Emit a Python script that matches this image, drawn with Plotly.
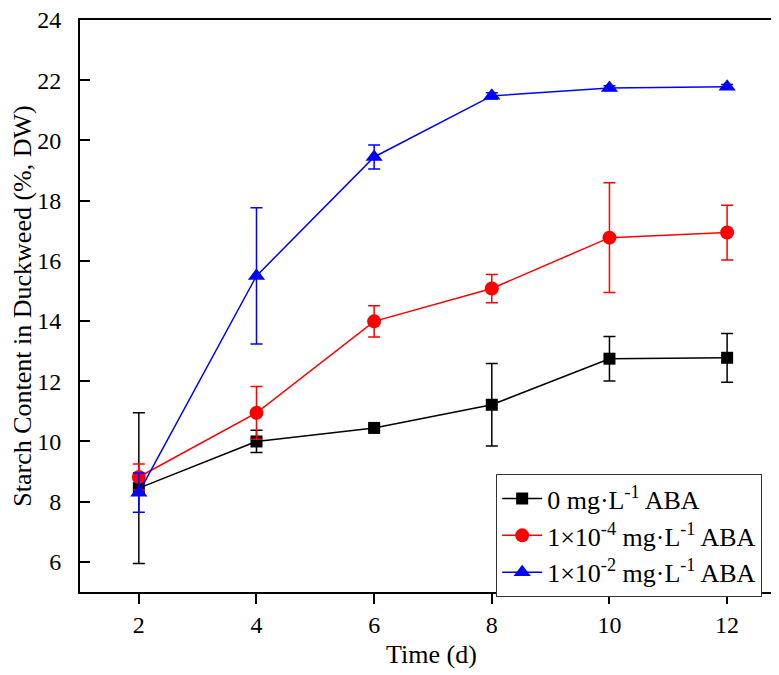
import plotly.graph_objects as go

days = [2, 4, 6, 8, 10, 12]

names = ["0 mg·L<sup>-1</sup> ABA",
         "1×10<sup>-4</sup> mg·L<sup>-1</sup> ABA",
         "1×10<sup>-2</sup> mg·L<sup>-1</sup> ABA"]

ctrl = [8.45, 10.0, 10.45, 11.22, 12.75, 12.78]
ctrl_err = [2.5, 0.37, 0.08, 1.37, 0.74, 0.81]

low = [8.82, 10.95, 13.99, 15.08, 16.77, 16.94]
low_err = [0.43, 0.88, 0.52, 0.47, 1.82, 0.91]

high = [8.3, 15.5, 19.45, 21.48, 21.74, 21.78]
high_err = [0.65, 2.26, 0.4, 0.1, 0.08, 0.08]

colors = ["#000000", "#ff0000", "#0000ff"]
symbols = ["square", "circle", "triangle-up"]
msizes = [12, 14, 15]

FONT = "Liberation Serif"

fig = go.Figure()
for ys, es, c, s, ms, n in zip([ctrl, low, high], [ctrl_err, low_err, high_err],
                               colors, symbols, msizes, names):
    fig.add_trace(go.Scatter(
        x=days, y=ys, name=n, mode="lines+markers",
        line=dict(color=c, width=1.5),
        marker=dict(symbol=s, size=ms, color=c),
        error_y=dict(type="data", array=es, visible=True, color=c,
                     thickness=1.5, width=6),
    ))

axis_common = dict(showline=True, linecolor="black", linewidth=2, mirror=True,
                   ticklen=10, tickwidth=2, tickcolor="black",
                   showgrid=False, zeroline=False, automargin=False,
                   ticklabeloverflow="allow",
                   tickfont=dict(family=FONT, size=24, color="black"))

fig.update_xaxes(range=[1, 12.95], tickvals=[2, 4, 6, 8, 10, 12], ticks="outside",
                 title=dict(text="Time (d)", font=dict(family=FONT, size=26, color="black"),
                            standoff=8),
                 **axis_common)
fig.update_yaxes(range=[5, 24], tickvals=[6, 8, 10, 12, 14, 16, 18, 20, 22, 24],
                 ticks="inside", ticklabelstandoff=12,
                 title=dict(text="Starch Content in Duckweed (%, DW)",
                            font=dict(family=FONT, size=26, color="black"), standoff=4),
                 **axis_common)

fig.update_layout(
    width=779, height=675,
    margin=dict(l=72, r=4, t=12, b=91),
    plot_bgcolor="white", paper_bgcolor="white",
    font=dict(family=FONT, color="black"),
    legend=dict(x=0.592, y=0.206, xanchor="left", yanchor="top",
                bgcolor="white", bordercolor="#333333", borderwidth=1,
                font=dict(family=FONT, size=26, color="black"),
                tracegroupgap=0, itemwidth=40),
)

fig.write_html("out.html")
